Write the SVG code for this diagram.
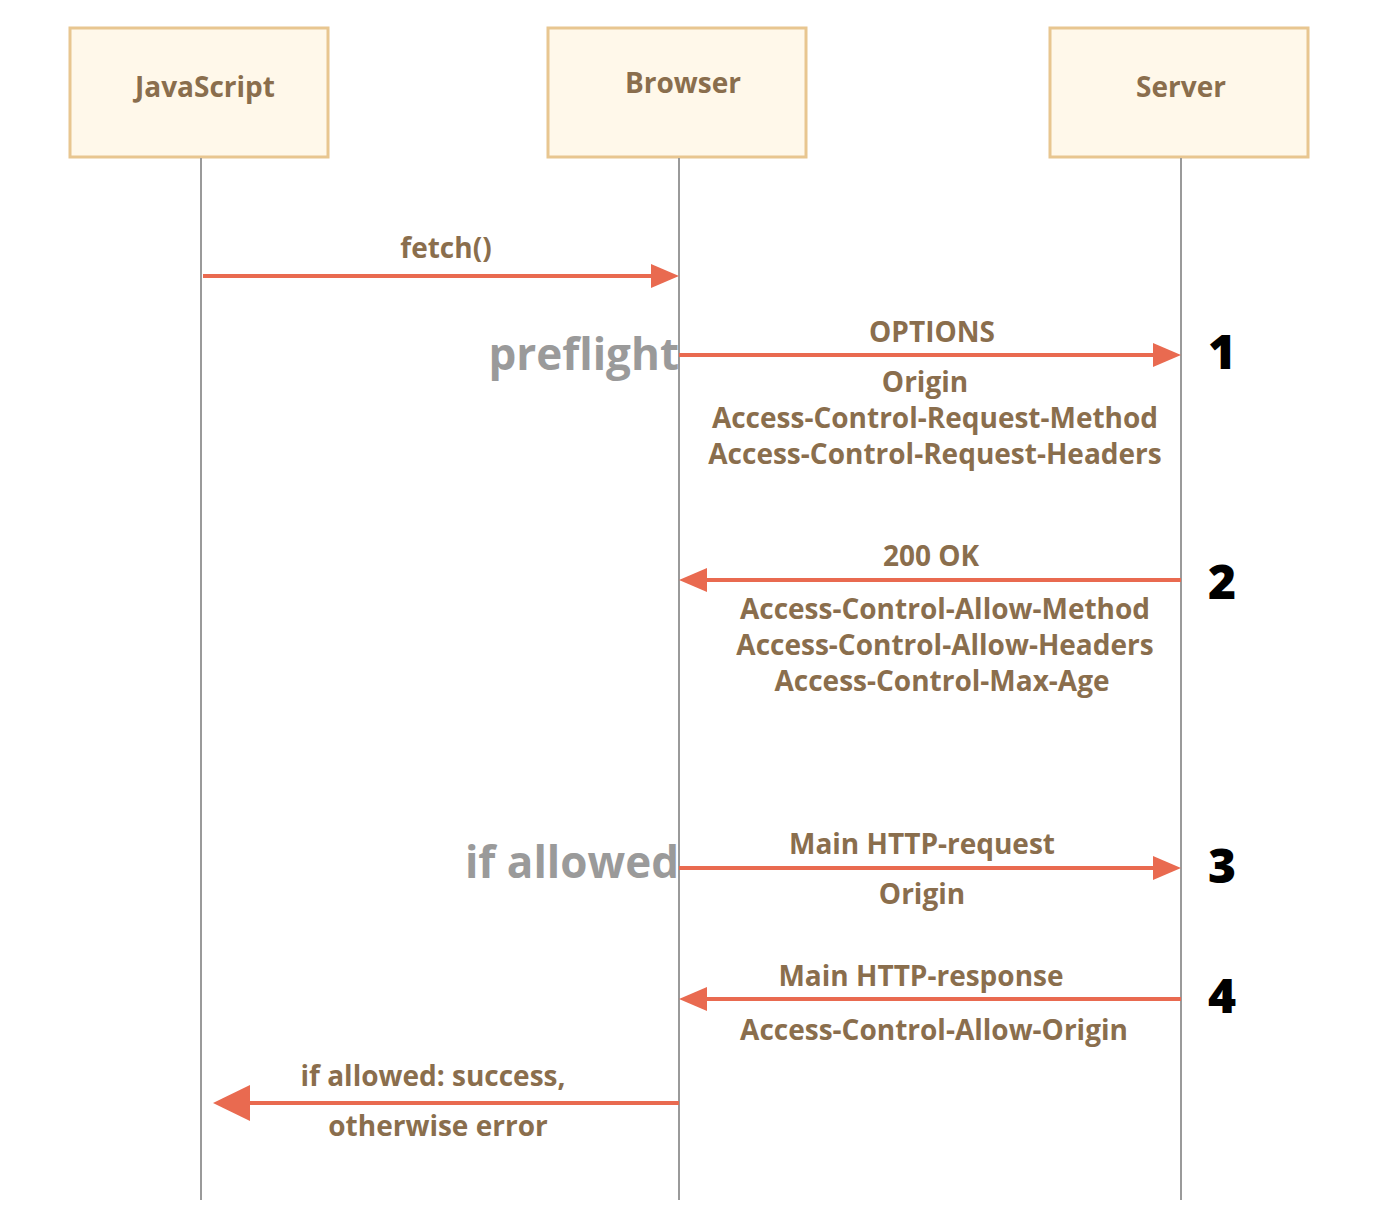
<svg xmlns="http://www.w3.org/2000/svg" width="1396" height="1224" viewBox="0 0 1396 1224">
<style>
.box{fill:#fff8ea;stroke:#e8c690;stroke-width:3}
.life{stroke:#9a9a9a;stroke-width:2}
.arr{stroke:#e96a50;stroke-width:4;fill:none}
.head{fill:#e96a50}
text{font-family:"Open Sans","Liberation Sans",sans-serif;font-weight:700}
.t{fill:#8a6e4d;font-size:28px;text-anchor:middle}
.g{fill:#9a9a9a;font-size:44px;text-anchor:end}
.n{fill:#000;font-size:48px;font-weight:800;text-anchor:middle}
</style>
<g id="javascript"><rect class="box" x="70" y="28" width="258" height="129"/><text class="t" x="205" y="97">JavaScript</text></g>
<g id="browser"><rect class="box" x="548" y="28" width="258" height="129"/><text class="t" x="683" y="93">Browser</text></g>
<g id="server"><rect class="box" x="1050" y="28" width="258" height="129"/><text class="t" x="1181" y="97">Server</text></g>
<g id="connectors">
<line class="life" x1="201" y1="158" x2="201" y2="1200"/>
<line class="life" x1="679" y1="158" x2="679" y2="1200"/>
<line class="life" x1="1181" y1="158" x2="1181" y2="1200"/>
<line class="arr" x1="203" y1="276" x2="655" y2="276"/><polygon class="head" points="651,264 679,276 651,288"/>
<line class="arr" x1="679" y1="355" x2="1157" y2="355"/><polygon class="head" points="1153,343 1181,355 1153,367"/>
<line class="arr" x1="1181" y1="580" x2="703" y2="580"/><polygon class="head" points="707,568 679,580 707,592"/>
<line class="arr" x1="679" y1="868" x2="1157" y2="868"/><polygon class="head" points="1153,856 1181,868 1153,880"/>
<line class="arr" x1="1181" y1="999" x2="703" y2="999"/><polygon class="head" points="707,987 679,999 707,1011"/>
<line class="arr" x1="679" y1="1103" x2="245" y2="1103"/><polygon class="head" points="250,1085 213,1103 250,1121"/>
</g>
<g id="labels">
<text class="t" x="446" y="258">fetch()</text>
<text class="g" x="679" y="370">preflight</text>
<text class="t" x="932" y="342">OPTIONS</text>
<text class="n" x="1222" y="369">1</text>
<text class="t" x="925" y="392">Origin</text>
<text class="t" x="935" y="428">Access-Control-Request-Method</text>
<text class="t" x="935" y="464">Access-Control-Request-Headers</text>
<text class="t" x="931" y="566">200 OK</text>
<text class="n" x="1222" y="599">2</text>
<text class="t" x="945" y="619">Access-Control-Allow-Method</text>
<text class="t" x="945" y="655">Access-Control-Allow-Headers</text>
<text class="t" x="942" y="691">Access-Control-Max-Age</text>
<text class="g" x="679" y="878">if allowed</text>
<text class="t" x="922" y="854">Main HTTP-request</text>
<text class="n" x="1222" y="883">3</text>
<text class="t" x="922" y="904">Origin</text>
<text class="t" x="921" y="986">Main HTTP-response</text>
<text class="n" x="1222" y="1013">4</text>
<text class="t" x="934" y="1040">Access-Control-Allow-Origin</text>
<text class="t" x="433" y="1086">if allowed: success,</text>
<text class="t" x="438" y="1136">otherwise error</text>
</g>
</svg>
